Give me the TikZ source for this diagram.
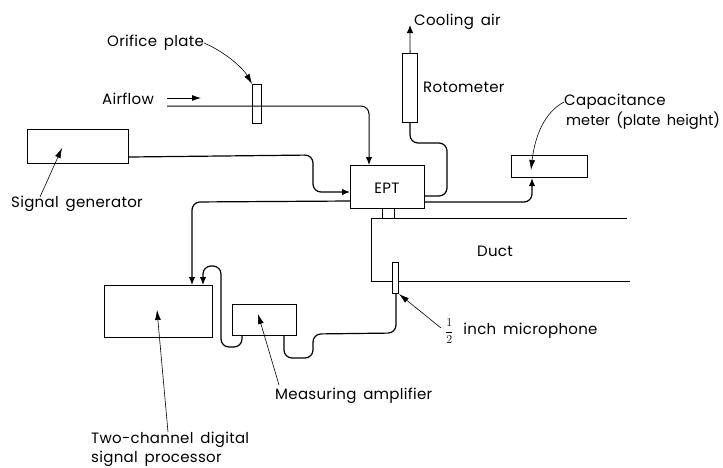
\documentclass[tikz,border=0pt]{standalone}
\usepackage{fontspec}
\setmainfont{Poppins}[LetterSpace=2,WordSpace=1.6]
\usetikzlibrary{arrows.meta}
\tikzset{
  box/.style={draw,line width=1.1pt,inner sep=0pt,anchor=north west},
  lbl/.style={anchor=west,inner sep=0pt,font=\fontsize{15}{17}\selectfont},
  wire/.style={line width=1.2pt,rounded corners=8pt},
  sig/.style={wire,-{Latex[length=8pt,width=6.5pt]}},
  lead/.style={line width=0.6pt,-{Latex[length=10pt,width=6pt]}}
}
\begin{document}
\begin{tikzpicture}[x=1pt,y=-1pt]
\useasboundingbox (0,0) rectangle (723,467);
% boxes
\node[box,minimum width=101pt,minimum height=34pt] (sg) at (27,129) {};
\node[box,minimum width=74pt,minimum height=43pt] (ept) at (350,165) {};
\node[box,minimum width=9pt,minimum height=39pt,line width=0.8pt] (op) at (252,84) {};
\node[box,minimum width=15pt,minimum height=69pt] (rot) at (402,53) {};
\node[box,minimum width=76pt,minimum height=22pt] (cap) at (511,155) {};
\node[box,minimum width=108pt,minimum height=52pt] (dsp) at (104,285) {};
\node[box,minimum width=64pt,minimum height=31pt] (amp) at (232,304) {};
\node[box,minimum width=6pt,minimum height=31pt] (mic) at (392,262) {};
\node[box,minimum width=12pt,minimum height=10pt,line width=0.8pt] (neck) at (382,208) {};
% duct
\coordinate (ducttr) at (627,218);
\coordinate (ducttl) at (371,218);
\coordinate (ductbl) at (371,281);
\coordinate (ductbr) at (630,281);
\draw[line width=1pt] (ducttr) -- (ducttl) -- (ductbl) -- (mic.west |- ductbl);
\draw[line width=1pt] (mic.east |- ductbl) -- (ductbr);
% labels
\node[lbl] (torifice) at (107,43) {Orifice plate};
\node[lbl] (tair) at (102,99) {Airflow};
\node[lbl] (tsg) at (11,204) {Signal generator};
\node[lbl] (tcool) at (414,22) {Cooling air};
\node[lbl] (trot) at (423,87) {Rotometer};
\node[lbl] (tcap) at (564,102) {Capacitance};
\node[lbl] (tcap2) at (566,121) {\fontsize{14.6}{17}\selectfont\addfontfeature{LetterSpace=0}meter (plate height)};
\node[lbl,anchor=center] (tept) at (387,188) {EPT};
\node[lbl,anchor=center] (tduct) at (495,251) {Duct};
\node[lbl] (tmic) at (445,331) {{\fontsize{12.5}{14}\selectfont$\displaystyle\frac{1}{2}$}\hspace{3pt} inch microphone};
\node[lbl] (tamp) at (275,396) {Measuring amplifier};
\node[lbl] (tdsp) at (91,440) {Two-channel digital};
\node[lbl] (tdsp2) at (91,459) {signal processor};
% airflow
\coordinate (afstart) at (167,106);
\coordinate (afa) at (167,98);
\coordinate (afb) at (201,98);
\draw[-{Latex[length=9pt,width=6pt]},line width=0.8pt] (afa) -- (afb);
\draw[sig,line width=1pt] (afstart) -- (369,106) -- (ept.north -| 369,0);
% signal generator to EPT
\draw[sig] (sg.east |- 0,157) -- (313,155) -- (313,192) -- (ept.west |- 0,192);
% EPT to DSP
\draw[sig] (ept.west |- 0,201) -- (192,202) -- (dsp.north -| 192,0);
% EPT to capacitance meter
\draw[sig] (ept.east |- 0,202) -- (532,202) -- (cap.south -| 532,0);
% rotometer
\draw[sig,line width=0.9pt] (rot.north) -- (410,25);
\draw[wire] (rot.south) -- (410,143) -- (447,143) -- (447,196) -- (ept.east |- 0,196);
% amp to DSP
\draw[sig] (amp.south -| 242,0) -- (242,347) -- (221,347) -- (221,266) -- (203,266) -- (dsp.north -| 203,0);
% mic to amp
\draw[wire] (amp.south -| 284,0) -- (284,358) -- (313,358) -- (313,334) -- (396,333) -- (mic.south -| 396,0);
% leaders
\coordinate (lsg) at (40,197);
\coordinate (lsgt) at (62,148);
\coordinate (ldsp) at (168,432);
\coordinate (ldspt) at (157,310);
\coordinate (lamp) at (279,385);
\coordinate (lampt) at (258,314);
\coordinate (lmic) at (441,328);
\coordinate (lcapt) at (531,170);
\draw[lead] (torifice.east) .. controls (225,52) and (243,68) .. (op.north west);
\draw[lead] (tcap.west) .. controls (545,112) and (535,135) .. (lcapt);
\draw[lead] (lsg) -- (lsgt);
\draw[lead] (ldsp) -- (ldspt);
\draw[lead] (lamp) -- (lampt);
\draw[lead] (lmic) -- (mic.south east);
\end{tikzpicture}
\end{document}
